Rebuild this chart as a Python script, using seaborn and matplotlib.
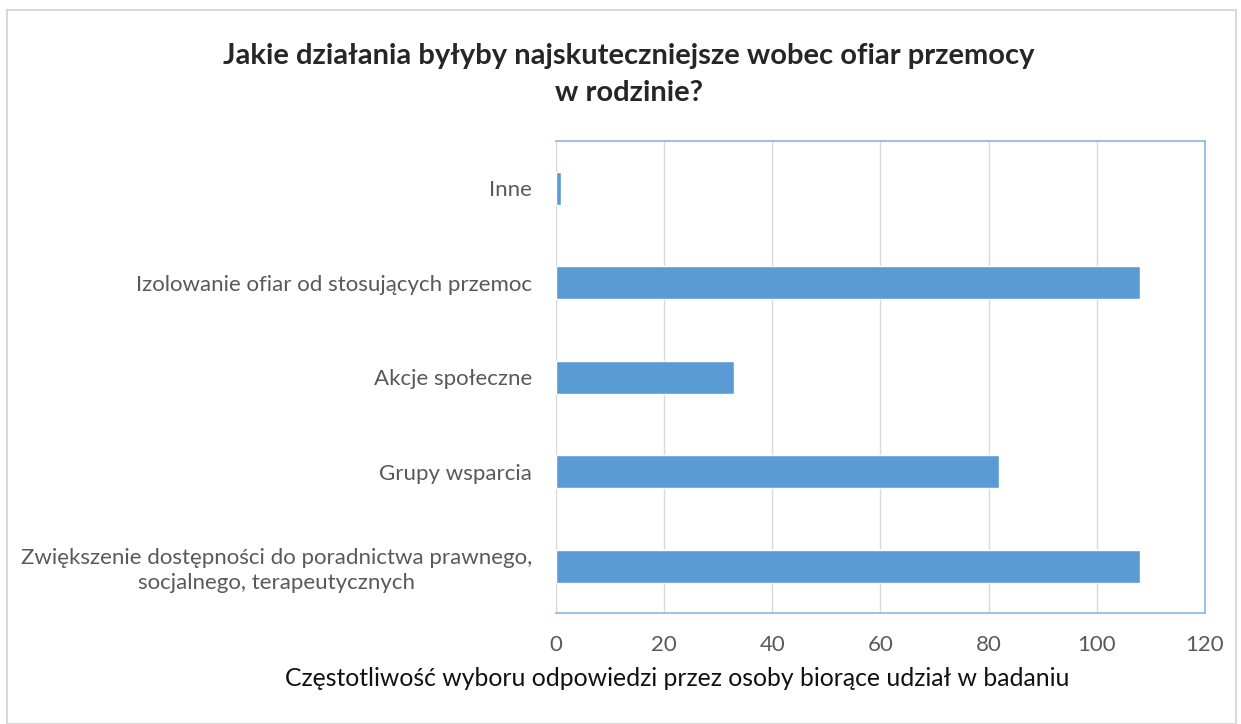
import matplotlib.pyplot as plt
import seaborn as sns
import pandas as pd
from matplotlib.patches import Rectangle

categories = [
    'Inne',
    'Izolowanie ofiar od stosujących przemoc',
    'Akcje społeczne',
    'Grupy wsparcia',
    'Zwiększenie dostępności do poradnictwa prawnego,\nsocjalnego, terapeutycznych',
]
counts = [1, 108, 33, 82, 108]
x_ticks = [0, 20, 40, 60, 80, 100, 120]

df = pd.DataFrame({'category': categories, 'count': counts})

sns.set_style('white')
plt.rcParams['font.family'] = ['Lato', 'DejaVu Sans']

fig = plt.figure(figsize=(12.41, 7.24), dpi=100)
ax = fig.add_axes([0.448, 0.153, 0.523, 0.652])

sns.barplot(data=df, y='category', x='count', color='#5B9BD5', width=0.35,
            saturation=1, ax=ax, zorder=3)

ax.set_xlim(0, 120)
ax.set_xticks(x_ticks)
ax.grid(axis='x', color='#D9D9D9', linewidth=1, zorder=0)
ax.tick_params(axis='x', colors='#595959', labelsize=16, length=0, pad=16)
ax.tick_params(axis='y', colors='#595959', labelsize=16, length=0, pad=17)
for lbl in ax.get_yticklabels():
    lbl.set_multialignment('center')
    lbl.set_linespacing(1.3)
ax.set_xlabel('')
ax.set_ylabel('')

for side in ['top', 'right', 'bottom']:
    ax.spines[side].set_color('#8DB4E2')
    ax.spines[side].set_linewidth(1.2)
ax.spines['left'].set_color('#D9D9D9')

fig.text(0.507, 0.897, 'Jakie działania byłyby najskuteczniejsze wobec ofiar przemocy\nw rodzinie?',
         ha='center', va='center', fontsize=21, fontweight='bold', linespacing=1.5)
fig.text(0.546, 0.063, 'Częstotliwość wyboru odpowiedzi przez osoby biorące udział w badaniu',
         ha='center', va='center', fontsize=17.8, color='#111111')

fig.patches.append(Rectangle((0.006, 0.0), 0.99, 0.986, transform=fig.transFigure,
                             fill=False, edgecolor='#D9D9D9', linewidth=1.5))

fig.savefig('out.png', dpi=100)
